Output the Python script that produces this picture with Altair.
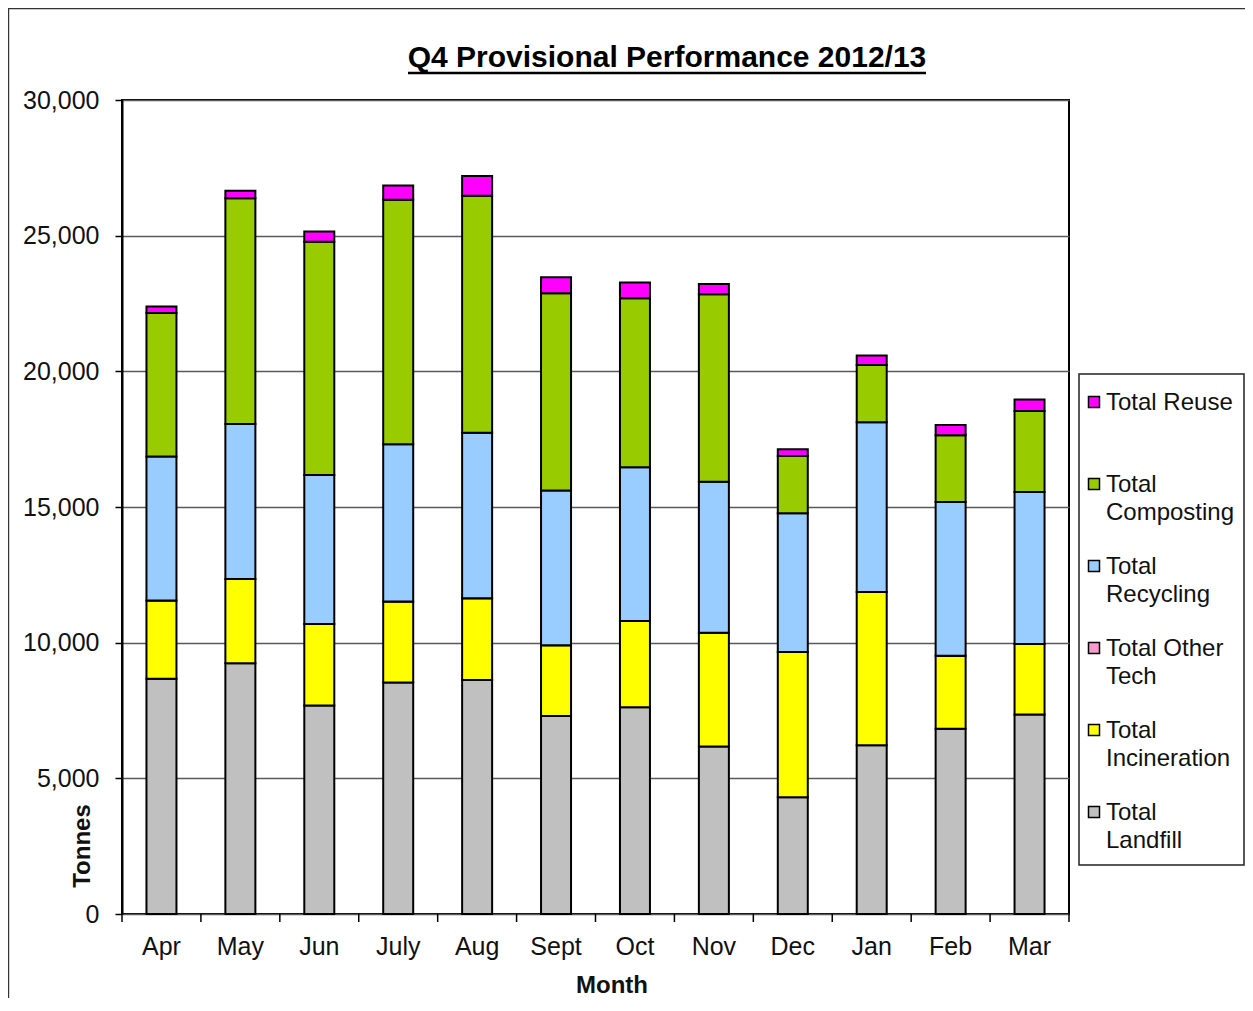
import altair as alt
import pandas as pd

months = ["Apr", "May", "Jun", "July", "Aug", "Sept", "Oct", "Nov", "Dec", "Jan", "Feb", "Mar"]

# stack order bottom -> top
series = ["Total Landfill", "Total Incineration", "Total Other Tech",
          "Total Recycling", "Total Composting", "Total Reuse"]
colors = ["#C0C0C0", "#FFFF00", "#FF99CC", "#99CCFF", "#99CC00", "#FF00FF"]

landfill     = [8670, 9240, 7680, 8530, 8625, 7300, 7620, 6170, 4300, 6220, 6830, 7350]
incineration = [2880, 3110, 3010, 2985, 3010, 2605, 3180, 4200, 5360, 5650, 2690, 2600]
other_tech   = [0, 0, 0, 0, 0, 0, 0, 0, 0, 0, 0, 0]
recycling    = [5310, 5710, 5490, 5800, 6105, 5700, 5665, 5565, 5110, 6255, 5665, 5600]
composting   = [5290, 8320, 8600, 9005, 8735, 7275, 6230, 6905, 2110, 2110, 2460, 2985]
reuse        = [235, 280, 370, 525, 725, 590, 575, 380, 245, 345, 380, 430]

y_ticks = [0, 5000, 10000, 15000, 20000, 25000, 30000]

legend_order = ["Total Reuse", "Total Composting", "Total Recycling",
                "Total Other Tech", "Total Incineration", "Total Landfill"]
legend_labels = ["Total Reuse", "Total\nComposting", "Total\nRecycling",
                 "Total Other\nTech", "Total\nIncineration", "Total\nLandfill"]

title_text = "Q4 Provisional Performance 2012/13"

FONT = "Liberation Sans"
W, H = 947, 814

values = [landfill, incineration, other_tech, recycling, composting, reuse]
rows = []
for si, (name, vals) in enumerate(zip(series, values)):
    for m, v in zip(months, vals):
        rows.append({"month": m, "series": name, "tonnes": v, "order": si})
df = pd.DataFrame(rows)

month_df = pd.DataFrame({"month": months})
legend_df = pd.DataFrame({"series": legend_order, "label": legend_labels})
one = pd.DataFrame({"a": [0]})

color_scale = alt.Scale(domain=series, range=colors)
x_scale = alt.Scale(domain=months, paddingInner=0, paddingOuter=0)

bars = alt.Chart(df).mark_bar(size=30, stroke="black", strokeWidth=2).encode(
    x=alt.X("month:N", sort=months, scale=x_scale, title=None,
            axis=alt.Axis(labelAngle=0, ticks=False, tickSize=0, domain=False,
                          grid=False, labelPadding=20, labelFontSize=25,
                          labelFont=FONT, labelColor="#111")),
    y=alt.Y("tonnes:Q", stack="zero",
            scale=alt.Scale(domain=[0, 30000], nice=False),
            axis=alt.Axis(values=y_ticks, labelExpr="format(datum.value, ',')",
                          title=None,
                          labelFont=FONT, labelFontSize=25, labelColor="#111",
                          labelPadding=16, tickSize=7, tickWidth=1.5,
                          tickColor="black", domainColor="black", domainWidth=2,
                          grid=True, gridColor="#5a5a5a", gridWidth=1.5)),
    color=alt.Color("series:N", scale=color_scale, legend=None),
    order=alt.Order("order:Q", sort="ascending"),
)

ticks = alt.Chart(month_df).mark_rule(color="black", strokeWidth=1.5).encode(
    x=alt.X("month:N", sort=months, scale=x_scale, bandPosition=0),
    y=alt.value(H), y2=alt.value(H + 8),
)
ticks_end = alt.Chart(month_df).transform_filter(
    alt.datum.month == months[-1]
).mark_rule(color="black", strokeWidth=1.5).encode(
    x=alt.X("month:N", sort=months, scale=x_scale, bandPosition=1),
    y=alt.value(H), y2=alt.value(H + 8),
)

title_df = pd.DataFrame({"t": [title_text]})
title = alt.Chart(title_df).mark_text(
    font=FONT, fontSize=30, fontWeight="bold", align="center",
    baseline="alphabetic", color="black"
).encode(x=alt.value(545), y=alt.value(-33.5), text="t:N")
underline = alt.Chart(one).mark_rule(color="black", strokeWidth=2.5).encode(
    x=alt.value(286), x2=alt.value(804), y=alt.value(-27)
)

xtitle = alt.Chart(pd.DataFrame({"t": ["Month"]})).mark_text(
    font=FONT, fontSize=24, fontWeight="bold", align="center",
    baseline="alphabetic", color="#111"
).encode(x=alt.value(490), y=alt.value(893), text="t:N")
ytitle = alt.Chart(pd.DataFrame({"t": ["Tonnes"]})).mark_text(
    font=FONT, fontSize=24, fontWeight="bold", align="center",
    baseline="alphabetic", angle=270, color="#111"
).encode(x=alt.value(-32), y=alt.value(746), text="t:N")

legend_box = alt.Chart(one).mark_rect(fill="white", stroke="#222", strokeWidth=1.5).encode(
    x=alt.value(957), x2=alt.value(1122), y=alt.value(274), y2=alt.value(765)
)
leg_y = alt.Y("series:N", sort=legend_order,
              scale=alt.Scale(type="point", domain=legend_order, range=[302, 712], padding=0),
              axis=None)
leg_sym = alt.Chart(legend_df).mark_square(
    size=121, stroke="black", strokeWidth=1.5, opacity=1
).encode(
    x=alt.value(972), y=leg_y,
    color=alt.Color("series:N", scale=color_scale, legend=None),
)
leg_txt = alt.Chart(legend_df).mark_text(
    font=FONT, fontSize=24, align="left", baseline="alphabetic", dy=8,
    lineBreak="\n", lineHeight=28, color="#111"
).encode(x=alt.value(984), y=leg_y, text="label:N")

frame = alt.Chart(one).mark_rect(filled=False, stroke="#333", strokeWidth=1.2).encode(
    x=alt.value(-113.4), x2=alt.value(1300), y=alt.value(-91.4), y2=alt.value(1100)
)

chart = alt.layer(
    bars, ticks, ticks_end, title, underline, xtitle, ytitle,
    legend_box, leg_sym, leg_txt, frame
).resolve_scale(y="independent").properties(
    width=W, height=H,
    autosize=alt.AutoSizeParams(type="none"),
    padding={"left": 114, "top": 92, "right": 176, "bottom": 84},
    background="white",
).configure_view(stroke="black", strokeWidth=2)

chart.save("out.html", embed_options={"renderer": "svg", "actions": False})
